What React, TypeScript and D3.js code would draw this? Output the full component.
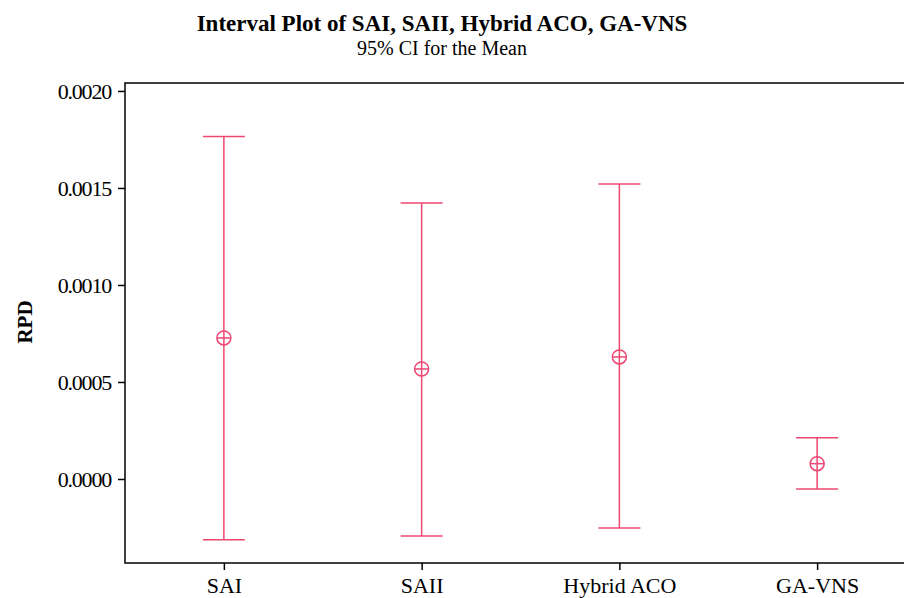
import React, { useEffect, useRef } from 'react';
import * as d3 from 'd3';

const categories = ['SAI', 'SAII', 'Hybrid ACO', 'GA-VNS'];
const means = [0.000727, 0.000567, 0.000629, 0.000079];
const upper = [0.001765, 0.001423, 0.001521, 0.000213];
const lower = [-0.000313, -0.000294, -0.000253, -0.000052];
const yTicks = [0.0, 0.0005, 0.001, 0.0015, 0.002];

const App = () => {
  const svgRef = useRef<SVGSVGElement>(null);

  useEffect(() => {
    const svg = d3.select(svgRef.current);
    svg.selectAll('*').remove();

    const width = 904;
    const height = 598;
    const left = 125, top = 83, bottom = 563, right = 916;
    const color = '#ee4770';
    const font = '"Liberation Serif", "Times New Roman", serif';

    svg.attr('width', width).attr('height', height);

    const x = d3.scalePoint().domain(categories).range([left, right]).padding(0.5);
    const y = d3.scaleLinear().domain([-0.000433, 0.002041]).range([bottom, top]);

    // title
    svg.append('text')
      .attr('x', 442).attr('y', 31)
      .attr('text-anchor', 'middle')
      .attr('font-family', font).attr('font-weight', 'bold').attr('font-size', 23)
      .text('Interval Plot of SAI, SAII, Hybrid ACO, GA-VNS');
    svg.append('text')
      .attr('x', 442).attr('y', 55)
      .attr('text-anchor', 'middle')
      .attr('font-family', font).attr('font-size', 20)
      .text('95% CI for the Mean');

    // frame
    svg.append('rect')
      .attr('x', left).attr('y', top)
      .attr('width', right - left).attr('height', bottom - top)
      .attr('fill', 'none').attr('stroke', '#000').attr('stroke-width', 1.5);

    // y axis
    const yAxis = svg.append('g')
      .attr('transform', `translate(${left},0)`)
      .call(d3.axisLeft(y).tickValues(yTicks).tickFormat(d3.format('.4f')).tickSize(7).tickPadding(7));
    yAxis.select('.domain').remove();
    yAxis.selectAll('line').attr('stroke-width', 1.5);
    yAxis.selectAll('text')
      .attr('font-family', font).attr('font-size', 22).attr('fill', '#000')
      .attr('letter-spacing', -1.2);

    // x axis
    const xAxis = svg.append('g')
      .attr('transform', `translate(0,${bottom})`)
      .call(d3.axisBottom(x).tickSize(7).tickPadding(7));
    xAxis.select('.domain').remove();
    xAxis.selectAll('line').attr('stroke-width', 1.5);
    xAxis.selectAll('text').attr('font-family', font).attr('font-size', 22).attr('fill', '#000');

    // y label
    svg.append('text')
      .attr('transform', `translate(32,322) rotate(-90)`)
      .attr('text-anchor', 'middle')
      .attr('font-family', font).attr('font-weight', 'bold').attr('font-size', 21)
      .text('RPD');

    // intervals
    const capHalf = 21;
    const g = svg.append('g').attr('stroke', color).attr('stroke-width', 1.5).attr('fill', 'none');
    categories.forEach((c, i) => {
      const cx = x(c) as number;
      g.append('line').attr('x1', cx).attr('x2', cx).attr('y1', y(upper[i])).attr('y2', y(lower[i]));
      g.append('line').attr('x1', cx - capHalf).attr('x2', cx + capHalf).attr('y1', y(upper[i])).attr('y2', y(upper[i]));
      g.append('line').attr('x1', cx - capHalf).attr('x2', cx + capHalf).attr('y1', y(lower[i])).attr('y2', y(lower[i]));
      const cy = y(means[i]);
      g.append('circle').attr('cx', cx).attr('cy', cy).attr('r', 7);
      g.append('line').attr('x1', cx - 7).attr('x2', cx + 7).attr('y1', cy).attr('y2', cy);
    });
  }, []);

  return <svg ref={svgRef} style={{ position: 'absolute', left: 0, top: 0 }}></svg>;
};

export default App;
